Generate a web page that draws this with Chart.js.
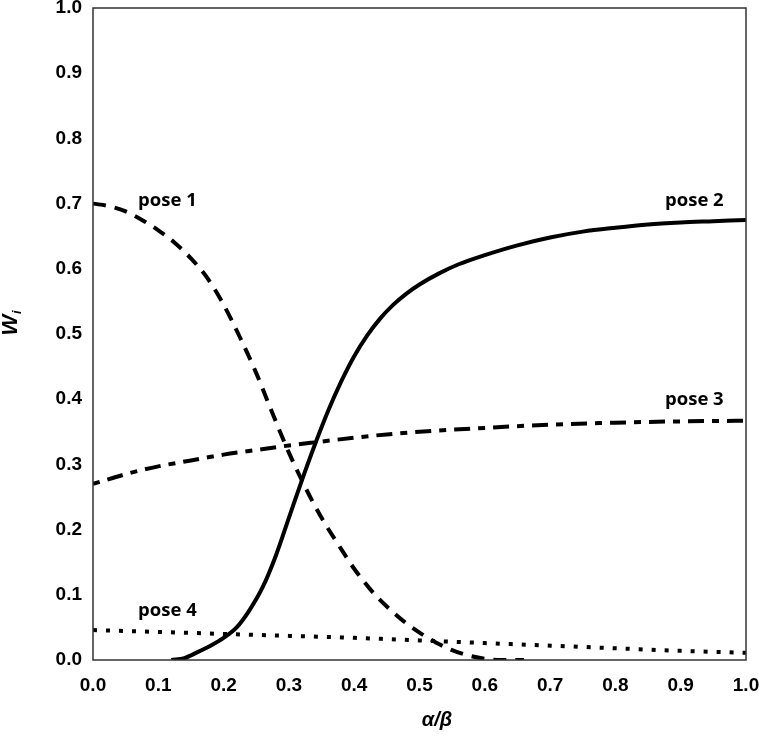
<!DOCTYPE html>
<html>
<head>
<meta charset="utf-8">
<script src="https://cdn.jsdelivr.net/npm/chart.js@4.4.1/dist/chart.umd.min.js"></script>
<style>
html,body{margin:0;padding:0;background:#fff;}
#wrap{width:759px;height:738px;position:relative;}
</style>
</head>
<body>
<div id="wrap"><canvas id="c" width="759" height="738"></canvas></div>
<script>
// ---- data ----
const pose1X = [0, 0.025, 0.05, 0.075, 0.10, 0.125, 0.15, 0.175, 0.20, 0.225, 0.25, 0.275, 0.30, 0.325, 0.35, 0.375, 0.40, 0.425, 0.45, 0.475, 0.50, 0.525, 0.55, 0.575, 0.60, 0.625, 0.66];
const pose1Y = [0.700, 0.696, 0.688, 0.675, 0.659, 0.640, 0.616, 0.586, 0.545, 0.495, 0.440, 0.378, 0.318, 0.265, 0.218, 0.178, 0.140, 0.108, 0.082, 0.060, 0.042, 0.027, 0.015, 0.007, 0.002, 0.0, 0.0];

const pose2X = [0.12, 0.14, 0.16, 0.18, 0.20, 0.22, 0.24, 0.26, 0.28, 0.30, 0.32, 0.34, 0.36, 0.38, 0.40, 0.42, 0.44, 0.46, 0.48, 0.50, 0.53, 0.56, 0.60, 0.65, 0.70, 0.75, 0.80, 0.85, 0.90, 0.95, 1.00];
const pose2Y = [0.0, 0.003, 0.012, 0.022, 0.034, 0.050, 0.077, 0.112, 0.160, 0.218, 0.276, 0.331, 0.382, 0.427, 0.466, 0.498, 0.524, 0.545, 0.562, 0.576, 0.593, 0.607, 0.621, 0.636, 0.648, 0.657, 0.663, 0.668, 0.671, 0.673, 0.675];

const pose3X = [0, 0.05, 0.10, 0.15, 0.20, 0.25, 0.30, 0.35, 0.40, 0.45, 0.50, 0.60, 0.70, 0.80, 0.90, 1.00];
const pose3Y = [0.270, 0.285, 0.297, 0.306, 0.315, 0.322, 0.329, 0.335, 0.341, 0.346, 0.350, 0.356, 0.361, 0.364, 0.366, 0.367];

const pose4X = [0, 0.1, 0.2, 0.3, 0.4, 0.5, 0.6, 0.7, 0.8, 0.9, 1.0];
const pose4Y = [0.046, 0.043, 0.040, 0.037, 0.034, 0.030, 0.026, 0.022, 0.018, 0.014, 0.011];

const xTickLabels = ['0.0','0.1','0.2','0.3','0.4','0.5','0.6','0.7','0.8','0.9','1.0'];
const yTickLabels = ['0.0','0.1','0.2','0.3','0.4','0.5','0.6','0.7','0.8','0.9','1.0'];
const seriesNames = ['pose 1','pose 2','pose 3','pose 4'];
// ---------------------------------------

const pts = (xs, ys) => xs.map((x, i) => ({x: x, y: ys[i]}));

const curveLabels = [
  {text: seriesNames[0], x: 0.069, y: 0.697},
  {text: seriesNames[1], x: 0.876, y: 0.697},
  {text: seriesNames[2], x: 0.876, y: 0.391},
  {text: seriesNames[3], x: 0.069, y: 0.067}
];

const decor = {
  id: 'decor',
  afterDraw(chart) {
    const ctx = chart.ctx, a = chart.chartArea;
    const xs = chart.scales.x, ys = chart.scales.y;
    ctx.save();
    // frame
    ctx.strokeStyle = '#333';
    ctx.lineWidth = 1.5;
    ctx.strokeRect(a.left, a.top, a.right - a.left, a.bottom - a.top);
    // curve labels
    ctx.fillStyle = '#000';
    ctx.font = '700 18.5px "Open Sans"';
    ctx.textAlign = 'left';
    ctx.textBaseline = 'alphabetic';
    curveLabels.forEach(l => {
      ctx.fillText(l.text, xs.getPixelForValue(l.x), ys.getPixelForValue(l.y));
    });
    // x axis title
    ctx.font = 'italic 700 20px "Liberation Sans"';
    ctx.textAlign = 'center';
    ctx.fillText('α/β', 437, 726);
    // y axis title W_i
    ctx.translate(17, 325);
    ctx.rotate(-Math.PI / 2);
    ctx.font = 'italic 700 22px "Liberation Sans"';
    ctx.textAlign = 'center';
    ctx.fillText('W', 0, 0);
    ctx.font = 'italic 700 13px "Liberation Sans"';
    ctx.textAlign = 'left';
    ctx.fillText('i', 11, 4);
    ctx.restore();
  }
};

const common = {fill: false, pointRadius: 0, borderColor: '#000', borderWidth: 4, cubicInterpolationMode: 'monotone', borderCapStyle: 'butt'};

new Chart(document.getElementById('c'), {
  type: 'line',
  data: {
    datasets: [
      Object.assign({label: seriesNames[0], data: pts(pose1X, pose1Y), borderDash: [13, 9]}, common),
      Object.assign({label: seriesNames[1], data: pts(pose2X, pose2Y)}, common),
      Object.assign({label: seriesNames[2], data: pts(pose3X, pose3Y), borderDash: [7, 8, 16, 8]}, common),
      Object.assign({label: seriesNames[3], data: pts(pose4X, pose4Y), borderDash: [4, 9]}, common)
    ]
  },
  options: {
    responsive: false,
    animation: false,
    layout: {padding: {left: 0, top: 8, right: 13, bottom: 0}},
    plugins: {legend: {display: false}, tooltip: {enabled: false}},
    scales: {
      x: {
        type: 'linear', min: 0, max: 1,
        grid: {display: false, drawTicks: false},
        border: {display: false},
        ticks: {
          stepSize: 0.1, padding: 14, color: '#000', maxRotation: 0, autoSkip: false,
          font: {family: '"Liberation Sans"', weight: 'bold', size: 19},
          callback: (v) => xTickLabels[Math.round(v * 10)]
        },
        afterFit: (s) => { s.height = 78; s.paddingLeft = 0; s.paddingRight = 0; }
      },
      y: {
        type: 'linear', min: 0, max: 1,
        grid: {display: false, drawTicks: false},
        border: {display: false},
        ticks: {
          stepSize: 0.1, padding: 11, color: '#000', autoSkip: false,
          font: {family: '"Liberation Sans"', weight: 'bold', size: 19},
          callback: (v) => yTickLabels[Math.round(v * 10)]
        },
        afterFit: (s) => { s.width = 93; s.paddingTop = 0; s.paddingBottom = 0; }
      }
    }
  },
  plugins: [decor]
});
</script>
</body>
</html>
